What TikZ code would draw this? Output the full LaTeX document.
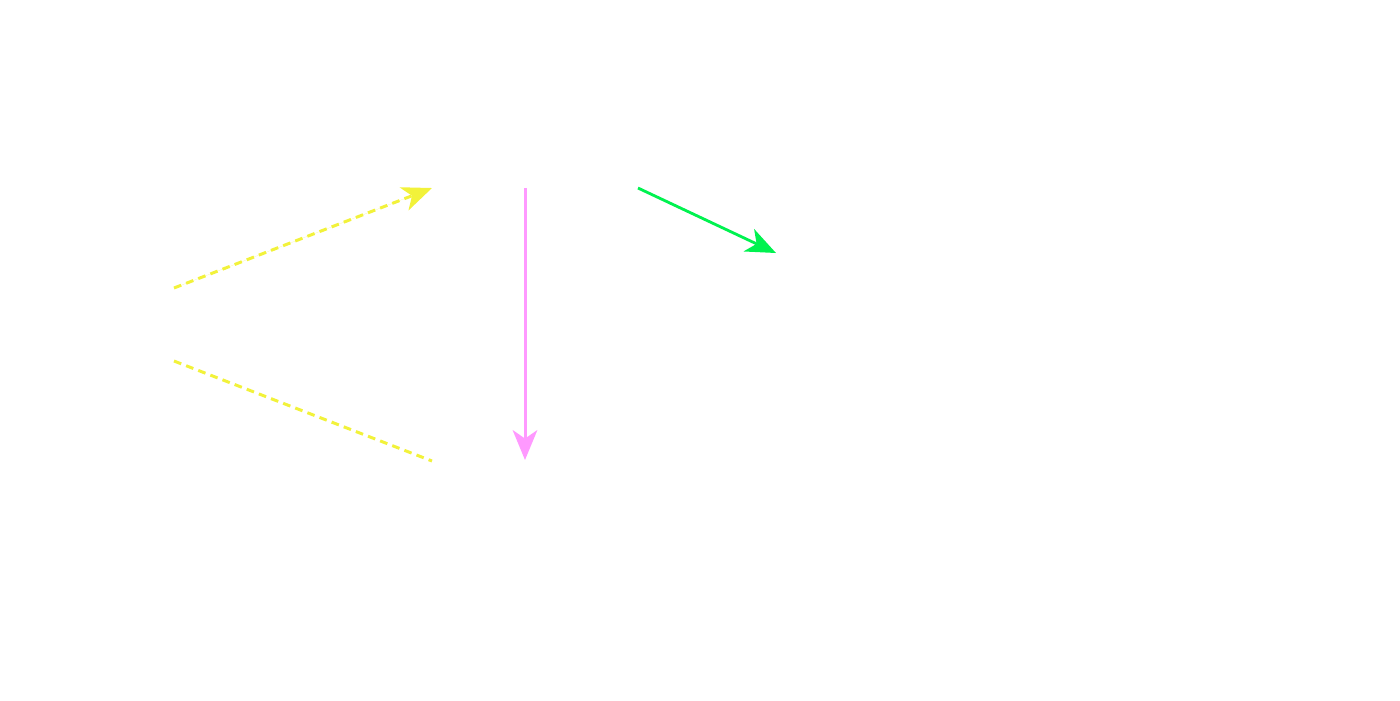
\documentclass[tikz,border=0pt]{standalone}
\usetikzlibrary{arrows.meta}
\definecolor{ylw}{HTML}{F2F23A}
\definecolor{pnk}{HTML}{FF99FF}
\definecolor{grn}{HTML}{00F24F}
\begin{document}
\begin{tikzpicture}[x=1cm,y=1cm,
  tipstyle/.style={-{Stealth[length=8.5pt,width=7pt,inset=2.4pt]}},
  yline/.style={draw=ylw,line width=0.85pt,dash pattern=on 2.2pt off 1.5pt},
  pline/.style={draw=pnk,line width=0.85pt},
  gline/.style={draw=grn,line width=0.8pt}]
\useasboundingbox (0,0) rectangle (14,7);
\coordinate (a1) at (1.74,4.12);
\coordinate (b1) at (4.32,5.12);
\coordinate (a2) at (1.74,3.39);
\coordinate (c2) at (4.32,2.39);
\coordinate (p1) at (5.25,5.12);
\coordinate (p2) at (5.25,2.40);
\coordinate (g1) at (6.38,5.12);
\coordinate (g2) at (7.76,4.47);
\draw[yline,tipstyle,fill=ylw] (a1) -- (b1);
\draw[yline] (a2) -- (c2);
\draw[pline,tipstyle,fill=pnk] (p1) -- (p2);
\draw[gline,tipstyle,fill=grn] (g1) -- (g2);
\end{tikzpicture}
\end{document}
